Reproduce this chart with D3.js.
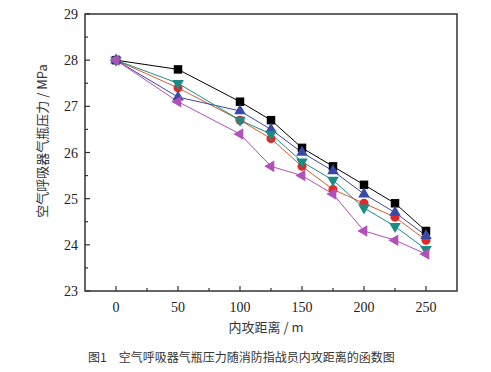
<!DOCTYPE html>
<html><head><meta charset="utf-8">
<script src="https://cdn.jsdelivr.net/npm/d3@7"></script>
<style>body{margin:0;background:#fff}</style>
</head><body>
<svg id="c" width="491" height="372"></svg>
<script>
const distances = [0, 50, 100, 125, 150, 175, 200, 225, 250];
const seriesBlack  = [28, 27.8, 27.1, 26.7, 26.1, 25.7, 25.3, 24.9, 24.3];
const seriesRed    = [28, 27.4, 26.7, 26.3, 25.7, 25.2, 24.9, 24.6, 24.1];
const seriesBlue   = [28, 27.2, 26.9, 26.5, 26.0, 25.6, 25.1, 24.7, 24.2];
const seriesTeal   = [28, 27.5, 26.7, 26.4, 25.8, 25.4, 24.8, 24.4, 23.9];
const seriesPurple = [28, 27.1, 26.4, 25.7, 25.5, 25.1, 24.3, 24.1, 23.8];
const xTicks = [0, 50, 100, 150, 200, 250];
const yTicks = [23, 24, 25, 26, 27, 28, 29];
const xTitle = "内攻距离 / m";
const yTitle = "空气呼吸器气瓶压力 / MPa";
const caption = "图1　空气呼吸器气瓶压力随消防指战员内攻距离的函数图";

const series = [
  {v: seriesBlack, color: "#000000", line: "#000000", shape: "square"},
  {v: seriesRed, color: "#e02a2a", line: "#e05a30", shape: "circle"},
  {v: seriesBlue, color: "#3a48a8", line: "#3a48a8", shape: "up"},
  {v: seriesTeal, color: "#1a8c84", line: "#1a8c84", shape: "down"},
  {v: seriesPurple, color: "#b050b8", line: "#b050b8", shape: "left"}
];

const L = 85, R = 457, T = 14, B = 291;
const svg = d3.select("#c");
const x = d3.scaleLinear().domain([-25, 275]).range([L, R]);
const y = d3.scaleLinear().domain([23, 29]).range([B, T]);

// frame
svg.append("rect").attr("x", L).attr("y", T).attr("width", R - L).attr("height", B - T)
  .attr("fill", "none").attr("stroke", "#333").attr("stroke-width", 1.5);

// ticks (inward)
const xMinor = d3.range(25, 275, 50);
const g = svg.append("g").attr("stroke", "#333").attr("stroke-width", 1.2);
xTicks.forEach(t => g.append("line").attr("x1", x(t)).attr("x2", x(t)).attr("y1", B).attr("y2", B - 5));
xMinor.forEach(t => g.append("line").attr("x1", x(t)).attr("x2", x(t)).attr("y1", B).attr("y2", B - 3));
yTicks.forEach(t => g.append("line").attr("x1", L).attr("x2", L + 5).attr("y1", y(t)).attr("y2", y(t)));
d3.range(23.5, 29, 1).forEach(t => g.append("line").attr("x1", L).attr("x2", L + 3).attr("y1", y(t)).attr("y2", y(t)));

// tick labels
const serif = "'Liberation Serif','DejaVu Serif',serif";
svg.append("g").selectAll("text").data(xTicks).join("text")
  .attr("x", d => x(d)).attr("y", 312).attr("text-anchor", "middle")
  .attr("font-family", serif).attr("font-size", 14).attr("fill", "#222").text(d => d);
svg.append("g").selectAll("text").data(yTicks).join("text")
  .attr("x", 78).attr("y", d => y(d) + 5).attr("text-anchor", "end")
  .attr("font-family", serif).attr("font-size", 14).attr("fill", "#222").text(d => d);

// titles
const cjk = "'Noto Sans CJK SC','Noto Sans',sans-serif";
svg.append("text").attr("x", 266).attr("y", 332).attr("text-anchor", "middle")
  .attr("font-family", cjk).attr("font-size", 13).attr("fill", "#333").text(xTitle);
svg.append("text").attr("transform", "translate(47,141) rotate(-90)").attr("text-anchor", "middle")
  .attr("font-family", cjk).attr("font-size", 13).attr("fill", "#333").text(yTitle);
svg.append("text").attr("x", 88).attr("y", 362)
  .attr("font-family", cjk).attr("font-size", 12).attr("fill", "#333").text(caption);

// lines & markers
const line = d3.line().x((d, i) => x(distances[i])).y(d => y(d));
series.forEach(s => {
  svg.append("path").datum(s.v).attr("d", line).attr("fill", "none")
    .attr("stroke", s.line).attr("stroke-width", 1);
});
const sym = {
  square: d3.symbolSquare, circle: d3.symbolCircle, up: d3.symbolTriangle,
  down: d3.symbolTriangle, left: d3.symbolTriangle
};
const rot = {square: 0, circle: 0, up: 0, down: 180, left: -90};
const sz = {square: 72, circle: 64, up: 58, down: 58, left: 58};
series.forEach(s => {
  svg.append("g").selectAll("path").data(s.v).join("path")
    .attr("d", d3.symbol().type(sym[s.shape]).size(sz[s.shape]))
    .attr("transform", (d, i) => `translate(${x(distances[i])},${y(d)}) rotate(${rot[s.shape]})`)
    .attr("fill", s.color);
});
</script>
</body></html>
